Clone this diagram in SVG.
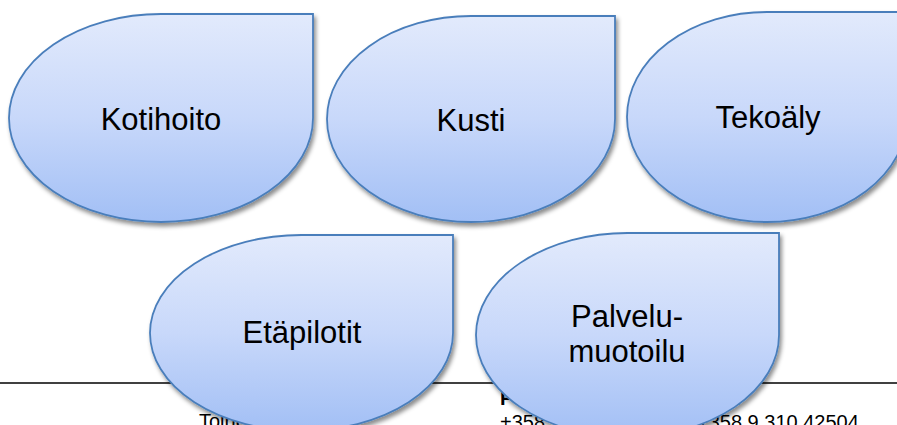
<svg xmlns="http://www.w3.org/2000/svg" width="897" height="425" viewBox="0 0 897 425">
<style>
.drop{fill:url(#g);stroke:#4a7ebb;stroke-width:1.8;filter:url(#sh)}
.lbl{font-family:"Liberation Sans",Arial,sans-serif;font-size:31px;fill:#000;text-anchor:middle}
.ft{font-family:"Liberation Sans",Arial,sans-serif;font-size:20px;fill:#000}
.fb{font-family:"Liberation Sans",Arial,sans-serif;font-size:20px;font-weight:bold;fill:#000}
</style>
<defs>
<linearGradient id="g" x1="0" y1="0" x2="0" y2="1">
<stop offset="0" stop-color="#e2eafc"/>
<stop offset="0.5" stop-color="#c8d8fa"/>
<stop offset="1" stop-color="#a2bff5"/>
</linearGradient>
<filter id="sh" x="-10%" y="-10%" width="125%" height="130%">
<feDropShadow dx="2" dy="3.5" stdDeviation="2" flood-color="#000" flood-opacity="0.45"/>
</filter>
</defs>
<rect width="897" height="425" fill="#fff"/>
<g id="footer">
<line x1="0" y1="383" x2="897" y2="383" stroke="#000" stroke-width="1.5"/>
<text class="fb" x="199" y="405">P</text>
<text class="ft" x="199" y="428">Toinen</text>
<text class="fb" x="500" y="405">P</text>
<text class="ft" x="500" y="429">+358 9</text>
<text class="fb" x="735" y="405">i</text>
<text class="ft" x="697" y="429">+358 9 310 42504</text>
</g>
<g id="kotihoito">
<path class="drop" d="M9,118 A152,104 0 0 1 161,14 L313,14 L313,118 A152,104 0 0 1 161,222 A152,104 0 0 1 9,118 Z"/>
<text class="lbl" x="161" y="130">Kotihoito</text>
</g>
<g id="kusti">
<path class="drop" d="M327,119 A144,103 0 0 1 471,16 L615,16 L615,119 A144,103 0 0 1 471,222 A144,103 0 0 1 327,119 Z"/>
<text class="lbl" x="471" y="131">Kusti</text>
</g>
<g id="tekoaly">
<path class="drop" d="M627,117 A140,105 0 0 1 767,12 L907,12 L907,117 A140,105 0 0 1 767,222 A140,105 0 0 1 627,117 Z"/>
<text class="lbl" x="768" y="128">Tekoäly</text>
</g>
<g id="etapilotit">
<path class="drop" d="M150,333 A151.5,98 0 0 1 301.5,235 L453,235 L453,333 A151.5,98 0 0 1 301.5,431 A151.5,98 0 0 1 150,333 Z"/>
<text class="lbl" x="302" y="343">Etäpilotit</text>
</g>
<g id="palvelumuotoilu">
<path class="drop" d="M476,335 A151.5,102 0 0 1 627.5,233 L779,233 L779,335 A151.5,102 0 0 1 627.5,437 A151.5,102 0 0 1 476,335 Z"/>
<text class="lbl" x="627" y="327">Palvelu-</text>
<text class="lbl" x="627" y="362">muotoilu</text>
</g>
</svg>
